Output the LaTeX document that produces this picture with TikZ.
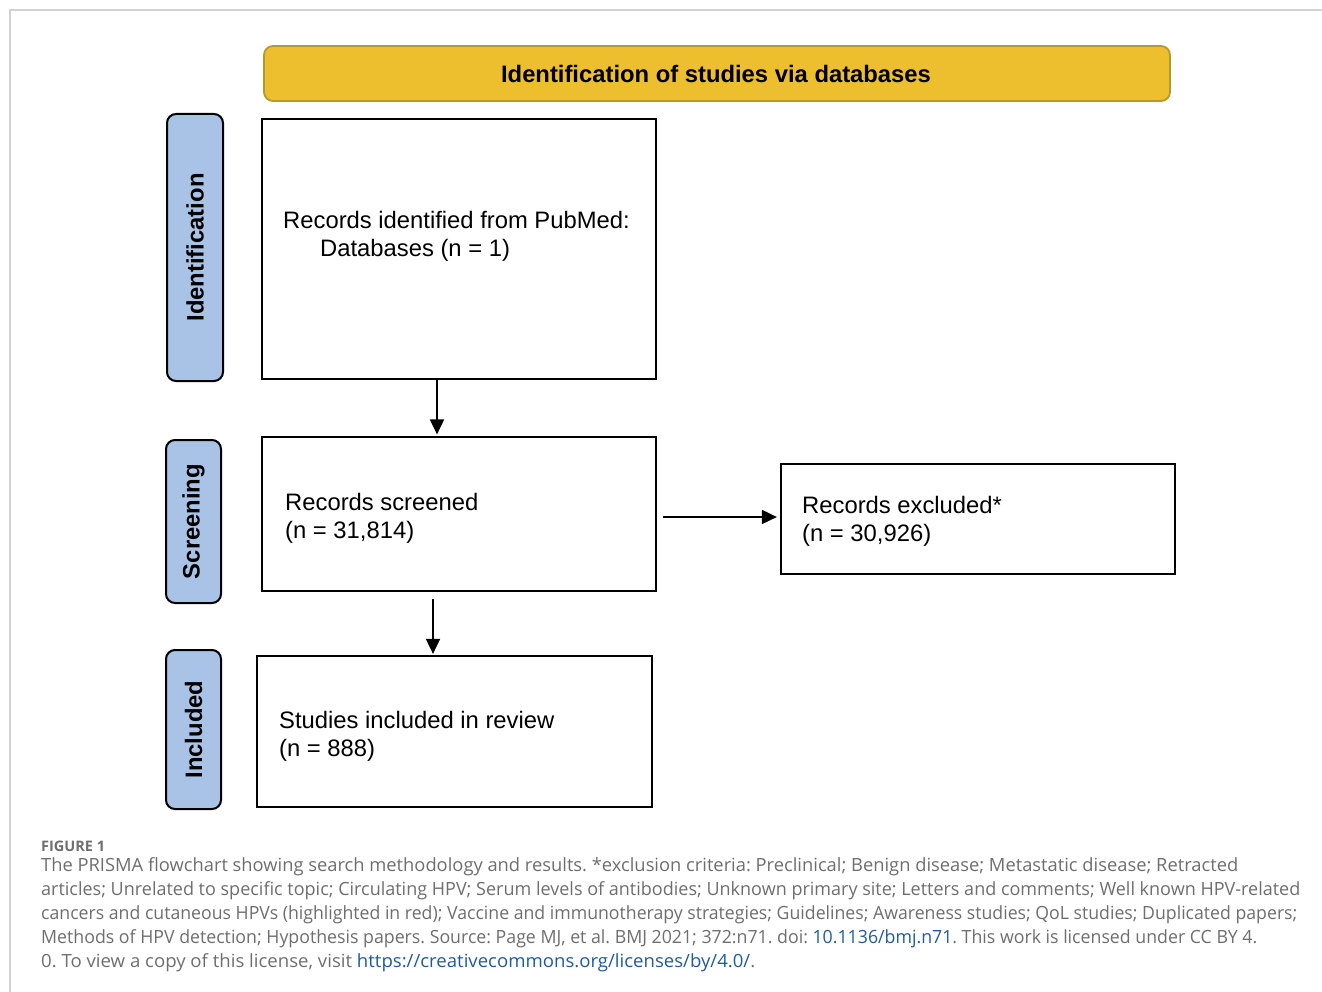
\documentclass[tikz,border=0pt]{standalone}
\usepackage{fontspec}
\setmainfont{Liberation Sans}
\newfontfamily\capfont{Open Sans}
\usetikzlibrary{arrows.meta,calc}
\definecolor{bannerfill}{HTML}{EDBE2D}
\definecolor{bannerdraw}{HTML}{B39A2C}
\definecolor{sidefill}{HTML}{A9C3E6}
\definecolor{framegray}{HTML}{D2D2D2}
\definecolor{captext}{HTML}{6E6E6E}
\definecolor{linkblue}{HTML}{1F5BA0}
\newcommand{\capfit}[2]{\resizebox{#1}{\height}{#2}}
\tikzset{
  box/.style={draw=black, line width=2.2pt, fill=white, inner sep=0pt},
  sidelabel/.style={draw=black, line width=2pt, fill=sidefill, rounded corners=9pt, inner sep=0pt},
  banner/.style={draw=bannerdraw, line width=1.8pt, fill=bannerfill, rounded corners=9pt, inner sep=0pt},
  boxtext/.style={font=\fontsize{23.8}{28}\selectfont, align=left, inner sep=0pt, anchor=west},
  sidetext/.style={font=\fontsize{23.8}{28}\selectfont\bfseries, rotate=90, inner sep=0pt},
  flow/.style={line width=1.8pt, -{Triangle[length=15pt,width=14pt]}},
  capline/.style={font=\capfont\fontsize{18.2}{24}\selectfont\frenchspacing, text=captext, anchor=base west, inner sep=0pt},
}
\begin{document}
\begin{tikzpicture}[x=1pt,y=-1pt]
\useasboundingbox (0,0) rectangle (1322,992);
% frame
\coordinate (fa) at (10,992);
\coordinate (fb) at (10,10);
\coordinate (fc) at (1322,10);
\draw[framegray, line width=1.5pt] (fa) -- (fb) -- (fc);
% banner
\node[banner, minimum width=906pt, minimum height=55pt] (banner) at (717,73.5) {};
\node[font=\fontsize{23.8}{28}\selectfont\bfseries, inner sep=0pt] (title) at (716,74) {Identification of studies via databases};
% side labels
\node[sidelabel, minimum width=56pt, minimum height=267pt] (sid) at (195,247.5) {};
\node[sidetext] (sidt) at (sid.center) {Identification};
\node[sidelabel, minimum width=55pt, minimum height=163pt] (ssc) at (193.5,521.5) {};
\node[sidetext] (ssct) at (ssc.center) {Screening};
\node[sidelabel, minimum width=55pt, minimum height=159pt] (sin) at (193.5,729.5) {};
\node[sidetext] (sint) at (sin.center) {Included};
% boxes
\node[box, minimum width=394pt, minimum height=260pt] (b1) at (459,249) {};
\node[boxtext] (b1t) at (283,236) {Records identified from PubMed:\\\hspace*{37pt}Databases (n = 1)};
\node[box, minimum width=394pt, minimum height=154pt] (b2) at (459,514) {};
\node[boxtext] (b2t) at (285,518.5) {Records screened\\(n = 31,814)};
\node[box, minimum width=394pt, minimum height=110pt] (bx) at (978,519) {};
\node[boxtext] (bxt) at (802,521.5) {Records excluded*\\(n = 30,926)};
\node[box, minimum width=395pt, minimum height=151pt] (b3) at (454.5,731.5) {};
\node[boxtext] (b3t) at (279,736) {Studies included in review\\(n = 888)};
% arrows
\draw[flow] ($(b1.south)+(-22,0)$) -- ($(b2.north)+(-22,-1.5)$);
\draw[flow] ($(b2.south)+(-26,7)$) -- ($(b3.north)+(-21.5,-1)$);
\draw[flow] ($(b2.east)+(6,3)$) -- ($(bx.west)+(-3,-2)$);
% caption
\node[font=\capfont\fontsize{14.5}{16}\selectfont\bfseries, text=captext, anchor=base west, inner sep=0pt] (fig) at (41,851) {FIGURE 1};
\node[capline] (c1) at (41,871) {\capfit{1197pt}{The PRISMA flowchart showing search methodology and results. *exclusion criteria: Preclinical; Benign disease; Metastatic disease; Retracted}};
\node[capline] (c2) at (41,895) {\capfit{1259pt}{articles; Unrelated to specific topic; Circulating HPV; Serum levels of antibodies; Unknown primary site; Letters and comments; Well known HPV-related}};
\node[capline] (c3) at (41,919) {\capfit{1256pt}{cancers and cutaneous HPVs (highlighted in red); Vaccine and immunotherapy strategies; Guidelines; Awareness studies; QoL studies; Duplicated papers;}};
\node[capline] (c4) at (41,943) {\capfit{1216pt}{Methods of HPV detection; Hypothesis papers. Source: Page MJ, et al. BMJ 2021; 372:n71. doi: \textcolor{linkblue}{10.1136/bmj.n71}. This work is licensed under CC BY 4.}};
\node[capline] (c5) at (41,967) {\capfit{714pt}{0. To view a copy of this license, visit \textcolor{linkblue}{https://creativecommons.org/licenses/by/4.0/}.}};
\end{tikzpicture}
\end{document}
